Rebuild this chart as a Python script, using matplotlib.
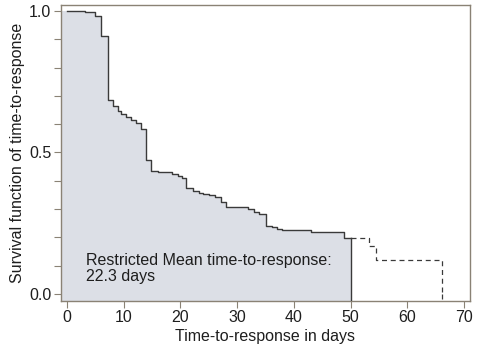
import numpy as np
import matplotlib
matplotlib.use('Agg')
import matplotlib.pyplot as plt
from matplotlib.ticker import MultipleLocator

plt.rcParams['font.family'] = ['Liberation Sans', 'DejaVu Sans']

# Kaplan-Meier style survival estimate
event_times = [0, 3.2, 5.0, 6.0, 7.2, 8.1, 9.0, 9.6, 10.4, 11.3, 12.2, 13.0, 13.9,
               14.9, 16.0, 18.5, 19.6, 20.3, 21.0, 22.3, 23.2, 24.0, 25.1, 26.1,
               27.1, 28.0, 32.0, 33.0, 33.9, 35.1, 36.1, 37.0, 38.0, 43.0, 48.8,
               53.2, 54.5, 66.2]
survival = [1.0, 0.995, 0.982, 0.91, 0.687, 0.665, 0.648, 0.636, 0.625, 0.615, 0.603,
            0.583, 0.472, 0.436, 0.430, 0.424, 0.416, 0.410, 0.374, 0.365, 0.358,
            0.354, 0.349, 0.343, 0.326, 0.306, 0.299, 0.291, 0.283, 0.240, 0.235,
            0.228, 0.226, 0.220, 0.197, 0.17, 0.12, 0.0]
tau = 50
rmst_label = 'Restricted Mean time-to-response:\n22.3 days'

x_ticks = [0, 10, 20, 30, 40, 50, 60, 70]
y_ticks = [0.0, 0.5, 1.0]

xmin, xmax = -1.06, 71.06
ymin, ymax = -0.025, 1.021

line_col = '#3a3a3a'
frame_col = '#8a8275'
fill_col = '#dcdfe6'
text_col = '#1e1e1e'
fs = 11.5

fig = plt.figure(figsize=(4.79, 3.46), dpi=100)
ax = fig.add_axes([0.1273, 0.130, 0.8539, 0.8555])

t = np.array(event_times)
s = np.array(survival)
s_tau = s[np.searchsorted(t, tau, side='right') - 1]

# solid part up to tau
mask = t < tau
t_solid = np.r_[t[mask], tau]
s_solid = np.r_[s[mask], s_tau]

# shaded restricted area
ax.fill_between(np.r_[xmin, t_solid], ymin, np.r_[1.0, s_solid], step='post',
                color=fill_col, linewidth=0, zorder=1)
ax.step(t_solid, s_solid, where='post', color=line_col, lw=1.0, zorder=3)
ax.plot([tau, tau], [ymin, s_tau], color=line_col, lw=1.0, zorder=3)

# dashed continuation after tau
t_dash = np.r_[tau, t[~mask]]
s_dash = np.r_[s_tau, s[~mask]]
ax.step(t_dash, s_dash, where='post', color=line_col, lw=0.9, ls=(0, (4, 3)), zorder=3)
ax.plot([t_dash[-1], t_dash[-1]], [s_dash[-1], ymin], color=line_col, lw=0.9,
        ls=(0, (4, 3)), zorder=3)

ax.text(3.4, 0.09, rmst_label, fontsize=fs, color=text_col, va='center',
        ha='left', linespacing=1.05, zorder=4)

ax.set_xlim(xmin, xmax)
ax.set_ylim(ymin, ymax)
ax.set_xticks(x_ticks)
ax.set_yticks(y_ticks)
ax.set_yticklabels([f'{v:.1f}' for v in y_ticks])
ax.yaxis.set_minor_locator(MultipleLocator(0.1))
ax.tick_params(axis='both', which='both', direction='out', length=5, width=0.8,
               color=frame_col, labelsize=fs, labelcolor=text_col)
ax.tick_params(axis='x', pad=1.5)
ax.tick_params(axis='y', pad=2)
for sp in ax.spines.values():
    sp.set_color(frame_col)
    sp.set_linewidth(1.0)

ax.set_xlabel('Time-to-response in days', fontsize=fs, color=text_col, labelpad=3)
ax.set_ylabel('Survival function of time-to-response', fontsize=fs,
              color=text_col, labelpad=3)

fig.savefig('out.png', dpi=100)
